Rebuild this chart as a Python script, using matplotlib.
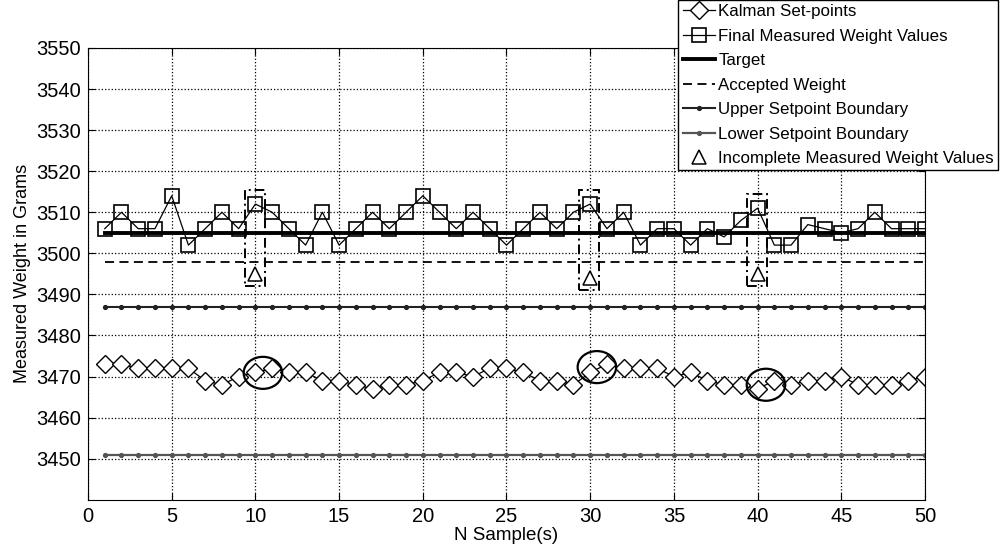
import matplotlib.pyplot as plt
from matplotlib.patches import Rectangle, Ellipse
import numpy as np

plt.rcParams['font.family'] = ['Liberation Sans', 'DejaVu Sans']

samples = np.arange(1, 51)
kalman = [3473, 3473, 3472, 3472, 3472, 3472, 3469, 3468, 3470, 3471,
          3472, 3471, 3471, 3469, 3469, 3468, 3467, 3468, 3468, 3469,
          3471, 3471, 3470, 3472, 3472, 3471, 3469, 3469, 3468, 3471,
          3473, 3472, 3472, 3472, 3470, 3471, 3469, 3468, 3468, 3467,
          3469, 3468, 3469, 3469, 3470, 3468, 3468, 3468, 3469, 3470]
measured = [3506, 3510, 3506, 3506, 3514, 3502, 3506, 3510, 3506, 3512,
            3510, 3506, 3502, 3510, 3502, 3506, 3510, 3506, 3510, 3514,
            3510, 3506, 3510, 3506, 3502, 3506, 3510, 3506, 3510, 3512,
            3506, 3510, 3502, 3506, 3506, 3502, 3506, 3504, 3508, 3511,
            3502, 3502, 3507, 3506, 3505, 3506, 3510, 3506, 3506, 3506]
target = 3505
accepted = 3498
upper_bound = 3487
lower_bound = 3451
incomplete_x = [10, 30, 40]
incomplete_y = [3495, 3494, 3495]
circle_x = [10.45, 30.4, 40.5]
circle_y = [3470.9, 3472.3, 3468.0]

fig = plt.figure(figsize=(10, 5.45), dpi=100)
ax = fig.add_axes([0.088, 0.083, 0.837, 0.829])

ax.plot(samples, kalman, '-', color='black', lw=0.9, marker='D', ms=9,
        mfc='white', mec='black', mew=1.0, label='Kalman Set-points')
ax.plot(samples, measured, '-', color='black', lw=0.9, marker='s', ms=9.5,
        mfc='none', mec='black', mew=1.2, label='Final Measured Weight Values')
ax.plot(samples, [target] * len(samples), '-', color='black', lw=2.8, label='Target')
ax.plot([1, 50], [accepted, accepted], '--', color='black', lw=1.3,
        dashes=(5, 3), label='Accepted Weight')
ax.plot(samples, [upper_bound] * len(samples), '-', color='#222222', lw=1.5,
        marker='.', ms=5.5, label='Upper Setpoint Boundary')
ax.plot(samples, [lower_bound] * len(samples), '-', color='#555555', lw=1.6,
        marker='.', ms=5.5, label='Lower Setpoint Boundary')
ax.plot(incomplete_x, incomplete_y, linestyle='none', marker='^', ms=10,
        mfc='white', mec='black', mew=1.1, label='Incomplete Measured Weight Values')

# dash-dot boxes around incomplete samples
for xi, yi in zip(incomplete_x, incomplete_y):
    top = measured[xi - 1] + 3.5
    bottom = yi - 3
    ax.add_patch(Rectangle((xi - 0.65, bottom), 1.2, top - bottom, fill=False,
                           ls=(0, (5, 2, 1, 2)), lw=1.4, ec='black', zorder=4))

# ellipses around the Kalman response
for cx, cy in zip(circle_x, circle_y):
    ax.add_patch(Ellipse((cx, cy), 2.3, 7.8, fill=False, lw=1.6, ec='black', zorder=4))

ax.set_xlim(0, 50)
ax.set_ylim(3440, 3550)
ax.set_xticks(np.arange(0, 51, 5))
ax.set_yticks(np.arange(3450, 3551, 10))
ax.grid(True, ls=':', color='black', lw=0.9)
ax.tick_params(direction='in', top=True, right=True, labelsize=14.5, length=5, pad=5)
ax.set_xlabel('N Sample(s)', fontsize=13.5, labelpad=1)
ax.set_ylabel('Measured Weight in Grams', fontsize=13, labelpad=4)

leg = ax.legend(loc='upper right', bbox_to_anchor=(0.998, 1.0),
                bbox_transform=fig.transFigure, fontsize=12.2, frameon=True,
                fancybox=False, framealpha=1, edgecolor='black',
                handlelength=1.9, handletextpad=0.2, borderpad=0.25,
                labelspacing=0.56, borderaxespad=0)
leg.get_frame().set_linewidth(1.0)

fig.savefig('out.png', dpi=100)
